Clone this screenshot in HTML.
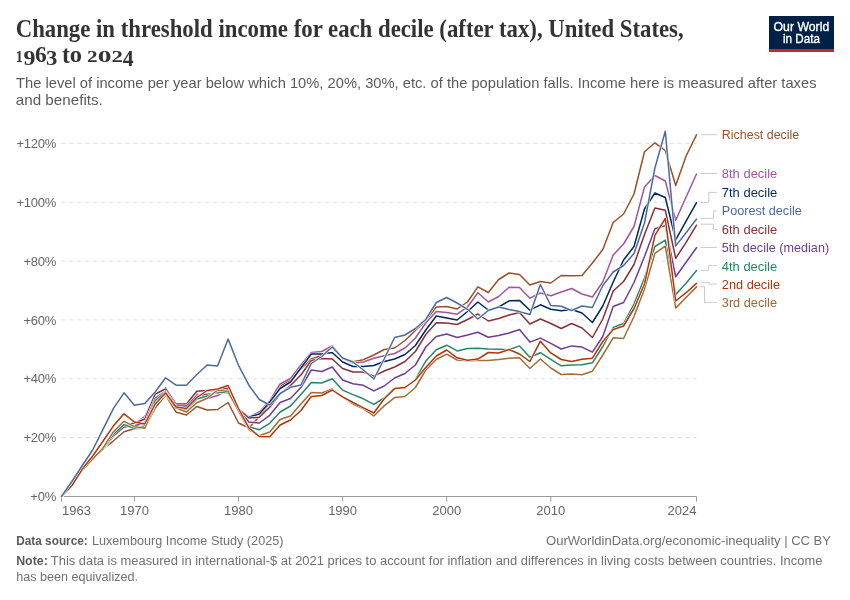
<!DOCTYPE html>
<html><head><meta charset="utf-8"><style>
html,body{margin:0;padding:0;background:#fff;}
svg{display:block;will-change:transform;}
.sans{font-family:"Liberation Sans",sans-serif;}
.serif{font-family:"Liberation Serif",serif;}
</style></head><body>
<svg width="850" height="600" viewBox="0 0 850 600">
<rect width="850" height="600" fill="#fff"/>
<g class="serif" font-weight="bold" font-size="25.2" fill="#333">
<text x="15.7" y="36.6" textLength="668" lengthAdjust="spacingAndGlyphs">Change in threshold income for each decile (after tax), United States,</text>
<text transform="translate(15.75,62.30) scale(0.1432,0.1682)" font-size="100">1</text><text transform="translate(23.58,65.36) scale(0.2395,0.2179)" font-size="100">9</text><text transform="translate(35.10,62.05) scale(0.2341,0.2269)" font-size="100">6</text><text transform="translate(46.09,65.36) scale(0.2279,0.2179)" font-size="100">3</text><text transform="translate(62.12,62.50) scale(0.2387,0.2571)" font-size="100">t</text><text transform="translate(69.82,62.27) scale(0.2452,0.2313)" font-size="100">o</text><text transform="translate(87.10,62.23) scale(0.2119,0.1742)" font-size="100">2</text><text transform="translate(97.70,62.44) scale(0.2750,0.1776)" font-size="100">0</text><text transform="translate(111.39,62.23) scale(0.2286,0.1742)" font-size="100">2</text><text transform="translate(122.68,65.70) scale(0.2170,0.2277)" font-size="100">4</text>
</g>
<g class="sans" font-size="15" fill="#5b5b5b">
<text x="16" y="88" textLength="800.5" lengthAdjust="spacingAndGlyphs">The level of income per year below which 10%, 20%, 30%, etc. of the population falls. Income here is measured after taxes</text>
<text x="15.8" y="105.4" textLength="87" lengthAdjust="spacingAndGlyphs">and benefits.</text>
</g>
<g>
<rect x="769" y="16" width="65" height="36" fill="#002147"/>
<rect x="769" y="49" width="65" height="3" fill="#ce261e"/>
<g class="sans" font-size="12.6" fill="#fff" stroke="#fff" stroke-width="0.35">
<text x="773.6" y="31" textLength="55.6" lengthAdjust="spacingAndGlyphs">Our World</text>
<text x="782.9" y="42.9" textLength="37" lengthAdjust="spacingAndGlyphs">in Data</text>
</g>
</g>
<g stroke="#ddd" stroke-width="1" stroke-dasharray="4,4">
<line x1="61.5" x2="696.5" y1="437.65" y2="437.65"/>
<line x1="61.5" x2="696.5" y1="378.80" y2="378.80"/>
<line x1="61.5" x2="696.5" y1="319.95" y2="319.95"/>
<line x1="61.5" x2="696.5" y1="261.10" y2="261.10"/>
<line x1="61.5" x2="696.5" y1="202.25" y2="202.25"/>
<line x1="61.5" x2="696.5" y1="143.40" y2="143.40"/>
</g>
<g class="sans" font-size="13" fill="#666" text-anchor="end" letter-spacing="-0.25">
<text x="56" y="501.1">+0%</text>
<text x="56" y="442.2">+20%</text>
<text x="56" y="383.4">+40%</text>
<text x="56" y="324.6">+60%</text>
<text x="56" y="265.7">+80%</text>
<text x="56" y="206.8">+100%</text>
<text x="56" y="148.0">+120%</text>
</g>
<g stroke="#999" stroke-width="1">
<line x1="61.5" x2="696.5" y1="496.5" y2="496.5"/>
<line x1="61.5" x2="61.5" y1="496.5" y2="501.5"/>
<line x1="134.4" x2="134.4" y1="496.5" y2="501.5"/>
<line x1="238.5" x2="238.5" y1="496.5" y2="501.5"/>
<line x1="342.6" x2="342.6" y1="496.5" y2="501.5"/>
<line x1="446.7" x2="446.7" y1="496.5" y2="501.5"/>
<line x1="550.8" x2="550.8" y1="496.5" y2="501.5"/>
<line x1="696.5" x2="696.5" y1="496.5" y2="501.5"/>
</g>
<g class="sans" font-size="13" fill="#666">
<text x="62.0" y="514.8" text-anchor="start">1963</text>
<text x="134.4" y="514.8" text-anchor="middle">1970</text>
<text x="238.5" y="514.8" text-anchor="middle">1980</text>
<text x="342.6" y="514.8" text-anchor="middle">1990</text>
<text x="446.7" y="514.8" text-anchor="middle">2000</text>
<text x="550.8" y="514.8" text-anchor="middle">2010</text>
<text x="696.5" y="514.8" text-anchor="end">2024</text>
</g>
<g fill="none" stroke-width="1.5" stroke-linejoin="round" stroke-linecap="round">
<polyline points="61.5,496.5 71.9,485.0 82.3,470.0 92.7,459.0 103.1,449.0 113.5,440.8 124.0,431.7 134.4,428.8 144.8,428.0 155.2,408.0 165.6,395.0 176.0,412.0 186.4,415.0 196.8,406.5 207.2,410.0 217.6,409.5 228.1,402.5 238.5,423.0 248.9,428.0 259.3,416.5 269.7,403.0 280.1,386.0 290.5,380.0 300.9,369.0 311.3,359.0 321.7,355.5 332.2,345.5 342.6,358.0 353.0,361.8 363.4,359.8 373.8,355.0 384.2,349.5 394.6,348.0 405.0,340.5 415.4,330.5 425.8,320.5 436.3,307.0 446.7,306.5 457.1,309.0 467.5,302.0 477.9,286.8 488.3,292.5 498.7,279.5 509.1,273.0 519.5,274.5 529.9,285.0 540.4,281.5 550.8,283.0 561.2,275.5 571.6,275.8 582.0,275.5 592.4,263.0 602.8,249.5 613.2,222.5 623.6,214.0 634.0,194.0 644.5,151.8 654.9,142.8 665.3,150.5 675.7,185.5 686.1,156.0 696.5,134.8" stroke="#fff" stroke-width="2.5"/>
<polyline points="61.5,496.5 71.9,485.0 82.3,470.0 92.7,459.0 103.1,449.0 113.5,440.8 124.0,431.7 134.4,428.8 144.8,428.0 155.2,408.0 165.6,395.0 176.0,412.0 186.4,415.0 196.8,406.5 207.2,410.0 217.6,409.5 228.1,402.5 238.5,423.0 248.9,428.0 259.3,416.5 269.7,403.0 280.1,386.0 290.5,380.0 300.9,369.0 311.3,359.0 321.7,355.5 332.2,345.5 342.6,358.0 353.0,361.8 363.4,359.8 373.8,355.0 384.2,349.5 394.6,348.0 405.0,340.5 415.4,330.5 425.8,320.5 436.3,307.0 446.7,306.5 457.1,309.0 467.5,302.0 477.9,286.8 488.3,292.5 498.7,279.5 509.1,273.0 519.5,274.5 529.9,285.0 540.4,281.5 550.8,283.0 561.2,275.5 571.6,275.8 582.0,275.5 592.4,263.0 602.8,249.5 613.2,222.5 623.6,214.0 634.0,194.0 644.5,151.8 654.9,142.8 665.3,150.5 675.7,185.5 686.1,156.0 696.5,134.8" stroke="#9A5129"/>
<polyline points="61.5,496.5 71.9,485.0 82.3,470.0 92.7,459.0 103.1,449.0 113.5,436.0 124.0,427.5 134.4,423.5 144.8,416.5 155.2,394.3 165.6,389.0 176.0,405.5 186.4,406.0 196.8,394.0 207.2,398.5 217.6,395.5 228.1,389.0 238.5,409.0 248.9,417.0 259.3,412.0 269.7,401.0 280.1,384.0 290.5,378.5 300.9,365.0 311.3,352.5 321.7,351.5 332.2,346.0 342.6,358.5 353.0,363.0 363.4,362.0 373.8,358.3 384.2,355.7 394.6,353.5 405.0,348.0 415.4,338.0 425.8,323.0 436.3,311.5 446.7,312.5 457.1,314.2 467.5,307.0 477.9,292.8 488.3,302.0 498.7,296.5 509.1,287.2 519.5,287.5 529.9,298.2 540.4,293.0 550.8,295.8 561.2,292.0 571.6,288.5 582.0,294.0 592.4,297.0 602.8,282.0 613.2,255.0 623.6,244.0 634.0,226.5 644.5,187.0 654.9,175.5 665.3,181.0 675.7,220.3 686.1,197.0 696.5,174.0" stroke="#fff" stroke-width="2.5"/>
<polyline points="61.5,496.5 71.9,485.0 82.3,470.0 92.7,459.0 103.1,449.0 113.5,436.0 124.0,427.5 134.4,423.5 144.8,416.5 155.2,394.3 165.6,389.0 176.0,405.5 186.4,406.0 196.8,394.0 207.2,398.5 217.6,395.5 228.1,389.0 238.5,409.0 248.9,417.0 259.3,412.0 269.7,401.0 280.1,384.0 290.5,378.5 300.9,365.0 311.3,352.5 321.7,351.5 332.2,346.0 342.6,358.5 353.0,363.0 363.4,362.0 373.8,358.3 384.2,355.7 394.6,353.5 405.0,348.0 415.4,338.0 425.8,323.0 436.3,311.5 446.7,312.5 457.1,314.2 467.5,307.0 477.9,292.8 488.3,302.0 498.7,296.5 509.1,287.2 519.5,287.5 529.9,298.2 540.4,293.0 550.8,295.8 561.2,292.0 571.6,288.5 582.0,294.0 592.4,297.0 602.8,282.0 613.2,255.0 623.6,244.0 634.0,226.5 644.5,187.0 654.9,175.5 665.3,181.0 675.7,220.3 686.1,197.0 696.5,174.0" stroke="#A2559C"/>
<polyline points="61.5,496.5 71.9,485.0 82.3,470.0 92.7,459.0 103.1,449.0 113.5,433.0 124.0,425.0 134.4,423.0 144.8,419.0 155.2,395.0 165.6,388.0 176.0,405.2 186.4,405.5 196.8,391.5 207.2,391.0 217.6,390.0 228.1,388.0 238.5,409.0 248.9,417.0 259.3,414.0 269.7,402.0 280.1,388.5 290.5,382.0 300.9,368.0 311.3,354.0 321.7,354.0 332.2,352.5 342.6,362.0 353.0,366.5 363.4,366.5 373.8,365.5 384.2,361.5 394.6,359.0 405.0,354.5 415.4,345.5 425.8,330.0 436.3,316.0 446.7,318.0 457.1,320.0 467.5,311.5 477.9,302.0 488.3,310.0 498.7,307.0 509.1,300.8 519.5,300.4 529.9,310.2 540.4,304.8 550.8,309.2 561.2,310.8 571.6,309.5 582.0,313.0 592.4,322.5 602.8,306.0 613.2,282.0 623.6,260.0 634.0,246.5 644.5,209.0 654.9,193.0 665.3,197.5 675.7,239.8 686.1,221.2 696.5,202.7" stroke="#fff" stroke-width="2.5"/>
<polyline points="61.5,496.5 71.9,485.0 82.3,470.0 92.7,459.0 103.1,449.0 113.5,433.0 124.0,425.0 134.4,423.0 144.8,419.0 155.2,395.0 165.6,388.0 176.0,405.2 186.4,405.5 196.8,391.5 207.2,391.0 217.6,390.0 228.1,388.0 238.5,409.0 248.9,417.0 259.3,414.0 269.7,402.0 280.1,388.5 290.5,382.0 300.9,368.0 311.3,354.0 321.7,354.0 332.2,352.5 342.6,362.0 353.0,366.5 363.4,366.5 373.8,365.5 384.2,361.5 394.6,359.0 405.0,354.5 415.4,345.5 425.8,330.0 436.3,316.0 446.7,318.0 457.1,320.0 467.5,311.5 477.9,302.0 488.3,310.0 498.7,307.0 509.1,300.8 519.5,300.4 529.9,310.2 540.4,304.8 550.8,309.2 561.2,310.8 571.6,309.5 582.0,313.0 592.4,322.5 602.8,306.0 613.2,282.0 623.6,260.0 634.0,246.5 644.5,209.0 654.9,193.0 665.3,197.5 675.7,239.8 686.1,221.2 696.5,202.7" stroke="#00295B"/>
<polyline points="61.5,496.5 71.9,485.0 82.3,470.0 92.7,459.0 103.1,449.0 113.5,433.0 124.0,425.0 134.4,423.0 144.8,419.0 155.2,394.0 165.6,389.0 176.0,404.0 186.4,404.0 196.8,391.3 207.2,390.5 217.6,389.5 228.1,388.2 238.5,409.0 248.9,418.0 259.3,417.3 269.7,407.3 280.1,394.0 290.5,385.5 300.9,375.0 311.3,360.5 321.7,358.5 332.2,359.0 342.6,368.5 353.0,372.0 363.4,372.0 373.8,376.2 384.2,371.0 394.6,367.0 405.0,361.5 415.4,351.5 425.8,334.5 436.3,322.8 446.7,323.0 457.1,324.5 467.5,319.5 477.9,314.0 488.3,321.0 498.7,318.5 509.1,315.0 519.5,312.5 529.9,324.0 540.4,319.0 550.8,323.5 561.2,328.5 571.6,323.5 582.0,328.0 592.4,337.5 602.8,319.0 613.2,291.0 623.6,281.5 634.0,264.5 644.5,234.5 654.9,208.0 665.3,210.3 675.7,258.3 686.1,242.4 696.5,225.2" stroke="#fff" stroke-width="2.5"/>
<polyline points="61.5,496.5 71.9,485.0 82.3,470.0 92.7,459.0 103.1,449.0 113.5,433.0 124.0,425.0 134.4,423.0 144.8,419.0 155.2,394.0 165.6,389.0 176.0,404.0 186.4,404.0 196.8,391.3 207.2,390.5 217.6,389.5 228.1,388.2 238.5,409.0 248.9,418.0 259.3,417.3 269.7,407.3 280.1,394.0 290.5,385.5 300.9,375.0 311.3,360.5 321.7,358.5 332.2,359.0 342.6,368.5 353.0,372.0 363.4,372.0 373.8,376.2 384.2,371.0 394.6,367.0 405.0,361.5 415.4,351.5 425.8,334.5 436.3,322.8 446.7,323.0 457.1,324.5 467.5,319.5 477.9,314.0 488.3,321.0 498.7,318.5 509.1,315.0 519.5,312.5 529.9,324.0 540.4,319.0 550.8,323.5 561.2,328.5 571.6,323.5 582.0,328.0 592.4,337.5 602.8,319.0 613.2,291.0 623.6,281.5 634.0,264.5 644.5,234.5 654.9,208.0 665.3,210.3 675.7,258.3 686.1,242.4 696.5,225.2" stroke="#883039"/>
<polyline points="61.5,496.5 71.9,485.0 82.3,470.0 92.7,459.0 103.1,449.0 113.5,436.0 124.0,427.0 134.4,425.8 144.8,423.0 155.2,398.3 165.6,391.0 176.0,405.7 186.4,406.0 196.8,395.9 207.2,394.3 217.6,393.0 228.1,390.0 238.5,410.0 248.9,422.0 259.3,423.0 269.7,415.3 280.1,402.5 290.5,398.5 300.9,387.5 311.3,370.0 321.7,371.5 332.2,367.0 342.6,380.0 353.0,383.8 363.4,385.3 373.8,390.9 384.2,386.0 394.6,378.0 405.0,373.5 415.4,365.0 425.8,347.0 436.3,336.5 446.7,334.0 457.1,337.5 467.5,335.0 477.9,332.2 488.3,337.2 498.7,335.5 509.1,333.0 519.5,329.5 529.9,342.1 540.4,338.1 550.8,343.4 561.2,349.0 571.6,345.9 582.0,347.1 592.4,352.2 602.8,336.5 613.2,306.5 623.6,302.5 634.0,282.5 644.5,256.5 654.9,228.7 665.3,225.6 675.7,276.8 686.1,262.2 696.5,247.7" stroke="#fff" stroke-width="2.5"/>
<polyline points="61.5,496.5 71.9,485.0 82.3,470.0 92.7,459.0 103.1,449.0 113.5,436.0 124.0,427.0 134.4,425.8 144.8,423.0 155.2,398.3 165.6,391.0 176.0,405.7 186.4,406.0 196.8,395.9 207.2,394.3 217.6,393.0 228.1,390.0 238.5,410.0 248.9,422.0 259.3,423.0 269.7,415.3 280.1,402.5 290.5,398.5 300.9,387.5 311.3,370.0 321.7,371.5 332.2,367.0 342.6,380.0 353.0,383.8 363.4,385.3 373.8,390.9 384.2,386.0 394.6,378.0 405.0,373.5 415.4,365.0 425.8,347.0 436.3,336.5 446.7,334.0 457.1,337.5 467.5,335.0 477.9,332.2 488.3,337.2 498.7,335.5 509.1,333.0 519.5,329.5 529.9,342.1 540.4,338.1 550.8,343.4 561.2,349.0 571.6,345.9 582.0,347.1 592.4,352.2 602.8,336.5 613.2,306.5 623.6,302.5 634.0,282.5 644.5,256.5 654.9,228.7 665.3,225.6 675.7,276.8 686.1,262.2 696.5,247.7" stroke="#6D3E91"/>
<polyline points="61.5,496.5 71.9,485.0 82.3,470.0 92.7,459.0 103.1,449.0 113.5,434.2 124.0,424.6 134.4,428.3 144.8,426.0 155.2,400.5 165.6,392.0 176.0,407.9 186.4,410.0 196.8,399.0 207.2,396.0 217.6,391.9 228.1,392.8 238.5,410.0 248.9,426.7 259.3,429.7 269.7,423.3 280.1,412.0 290.5,406.0 300.9,394.5 311.3,382.5 321.7,383.0 332.2,378.8 342.6,390.1 353.0,394.6 363.4,398.8 373.8,404.4 384.2,398.0 394.6,388.5 405.0,388.0 415.4,379.5 425.8,361.0 436.3,349.8 446.7,345.2 457.1,350.9 467.5,348.6 477.9,348.2 488.3,349.1 498.7,349.2 509.1,349.7 519.5,345.9 529.9,357.3 540.4,352.7 550.8,359.4 561.2,365.8 571.6,365.0 582.0,364.8 592.4,362.8 602.8,346.5 613.2,327.5 623.6,323.5 634.0,304.0 644.5,278.0 654.9,246.5 665.3,240.2 675.7,294.4 686.1,283.2 696.5,270.6" stroke="#fff" stroke-width="2.5"/>
<polyline points="61.5,496.5 71.9,485.0 82.3,470.0 92.7,459.0 103.1,449.0 113.5,434.2 124.0,424.6 134.4,428.3 144.8,426.0 155.2,400.5 165.6,392.0 176.0,407.9 186.4,410.0 196.8,399.0 207.2,396.0 217.6,391.9 228.1,392.8 238.5,410.0 248.9,426.7 259.3,429.7 269.7,423.3 280.1,412.0 290.5,406.0 300.9,394.5 311.3,382.5 321.7,383.0 332.2,378.8 342.6,390.1 353.0,394.6 363.4,398.8 373.8,404.4 384.2,398.0 394.6,388.5 405.0,388.0 415.4,379.5 425.8,361.0 436.3,349.8 446.7,345.2 457.1,350.9 467.5,348.6 477.9,348.2 488.3,349.1 498.7,349.2 509.1,349.7 519.5,345.9 529.9,357.3 540.4,352.7 550.8,359.4 561.2,365.8 571.6,365.0 582.0,364.8 592.4,362.8 602.8,346.5 613.2,327.5 623.6,323.5 634.0,304.0 644.5,278.0 654.9,246.5 665.3,240.2 675.7,294.4 686.1,283.2 696.5,270.6" stroke="#2A8566"/>
<polyline points="61.5,496.5 71.9,485.0 82.3,470.0 92.7,459.0 103.1,448.0 113.5,431.7 124.0,421.3 134.4,426.7 144.8,428.3 155.2,404.3 165.6,394.0 176.0,408.0 186.4,412.0 196.8,402.7 207.2,398.3 217.6,390.0 228.1,391.6 238.5,411.0 248.9,429.7 259.3,435.7 269.7,432.0 280.1,419.5 290.5,416.0 300.9,404.0 311.3,392.5 321.7,393.0 332.2,389.0 342.6,397.0 353.0,404.0 363.4,408.9 373.8,416.0 384.2,405.9 394.6,397.6 405.0,396.5 415.4,387.5 425.8,370.0 436.3,359.5 446.7,354.2 457.1,360.0 467.5,360.8 477.9,360.5 488.3,360.5 498.7,359.5 509.1,358.2 519.5,357.8 529.9,368.5 540.4,359.0 550.8,368.0 561.2,374.5 571.6,374.0 582.0,374.8 592.4,371.2 602.8,355.0 613.2,337.8 623.6,338.5 634.0,316.5 644.5,289.0 654.9,253.4 665.3,246.2 675.7,308.1 686.1,297.5 696.5,286.9" stroke="#fff" stroke-width="2.5"/>
<polyline points="61.5,496.5 71.9,485.0 82.3,470.0 92.7,459.0 103.1,448.0 113.5,431.7 124.0,421.3 134.4,426.7 144.8,428.3 155.2,404.3 165.6,394.0 176.0,408.0 186.4,412.0 196.8,402.7 207.2,398.3 217.6,390.0 228.1,391.6 238.5,411.0 248.9,429.7 259.3,435.7 269.7,432.0 280.1,419.5 290.5,416.0 300.9,404.0 311.3,392.5 321.7,393.0 332.2,389.0 342.6,397.0 353.0,404.0 363.4,408.9 373.8,416.0 384.2,405.9 394.6,397.6 405.0,396.5 415.4,387.5 425.8,370.0 436.3,359.5 446.7,354.2 457.1,360.0 467.5,360.8 477.9,360.5 488.3,360.5 498.7,359.5 509.1,358.2 519.5,357.8 529.9,368.5 540.4,359.0 550.8,368.0 561.2,374.5 571.6,374.0 582.0,374.8 592.4,371.2 602.8,355.0 613.2,337.8 623.6,338.5 634.0,316.5 644.5,289.0 654.9,253.4 665.3,246.2 675.7,308.1 686.1,297.5 696.5,286.9" stroke="#A06E36"/>
<polyline points="61.5,496.5 71.9,485.5 82.3,469.0 92.7,456.0 103.1,441.0 113.5,425.8 124.0,413.8 134.4,422.0 144.8,424.0 155.2,404.0 165.6,393.0 176.0,407.0 186.4,408.5 196.8,397.5 207.2,390.5 217.6,389.0 228.1,385.5 238.5,408.5 248.9,428.0 259.3,436.5 269.7,436.7 280.1,425.0 290.5,420.0 300.9,410.5 311.3,396.5 321.7,395.5 332.2,390.0 342.6,396.9 353.0,402.5 363.4,407.8 373.8,413.0 384.2,398.8 394.6,388.6 405.0,387.5 415.4,380.0 425.8,367.5 436.3,356.0 446.7,350.0 457.1,357.8 467.5,360.2 477.9,359.1 488.3,352.5 498.7,353.0 509.1,349.5 519.5,354.0 529.9,361.5 540.4,341.2 550.8,352.9 561.2,359.5 571.6,361.5 582.0,359.2 592.4,358.2 602.8,341.5 613.2,329.5 623.6,326.0 634.0,308.5 644.5,284.0 654.9,235.3 665.3,218.5 675.7,301.0 686.1,292.7 696.5,283.4" stroke="#fff" stroke-width="2.5"/>
<polyline points="61.5,496.5 71.9,485.5 82.3,469.0 92.7,456.0 103.1,441.0 113.5,425.8 124.0,413.8 134.4,422.0 144.8,424.0 155.2,404.0 165.6,393.0 176.0,407.0 186.4,408.5 196.8,397.5 207.2,390.5 217.6,389.0 228.1,385.5 238.5,408.5 248.9,428.0 259.3,436.5 269.7,436.7 280.1,425.0 290.5,420.0 300.9,410.5 311.3,396.5 321.7,395.5 332.2,390.0 342.6,396.9 353.0,402.5 363.4,407.8 373.8,413.0 384.2,398.8 394.6,388.6 405.0,387.5 415.4,380.0 425.8,367.5 436.3,356.0 446.7,350.0 457.1,357.8 467.5,360.2 477.9,359.1 488.3,352.5 498.7,353.0 509.1,349.5 519.5,354.0 529.9,361.5 540.4,341.2 550.8,352.9 561.2,359.5 571.6,361.5 582.0,359.2 592.4,358.2 602.8,341.5 613.2,329.5 623.6,326.0 634.0,308.5 644.5,284.0 654.9,235.3 665.3,218.5 675.7,301.0 686.1,292.7 696.5,283.4" stroke="#B13507"/>
<polyline points="61.5,496.5 71.9,481.5 82.3,465.5 92.7,450.0 103.1,429.2 113.5,408.3 124.0,392.8 134.4,405.3 144.8,403.5 155.2,392.0 165.6,377.8 176.0,385.2 186.4,385.2 196.8,374.5 207.2,365.0 217.6,366.0 228.1,339.1 238.5,365.3 248.9,385.2 259.3,399.5 269.7,405.0 280.1,393.5 290.5,387.3 300.9,385.0 311.3,363.5 321.7,356.5 332.2,347.0 342.6,358.0 353.0,362.0 363.4,370.0 373.8,379.0 384.2,359.0 394.6,337.5 405.0,335.0 415.4,328.5 425.8,319.5 436.3,302.5 446.7,297.5 457.1,303.0 467.5,309.3 477.9,319.0 488.3,310.5 498.7,307.0 509.1,309.5 519.5,311.6 529.9,314.5 540.4,284.5 550.8,305.5 561.2,306.3 571.6,310.5 582.0,306.0 592.4,307.5 602.8,285.5 613.2,272.0 623.6,265.5 634.0,253.5 644.5,223.0 654.9,168.0 665.3,131.2 675.7,245.9 686.1,232.7 696.5,219.0" stroke="#fff" stroke-width="2.5"/>
<polyline points="61.5,496.5 71.9,481.5 82.3,465.5 92.7,450.0 103.1,429.2 113.5,408.3 124.0,392.8 134.4,405.3 144.8,403.5 155.2,392.0 165.6,377.8 176.0,385.2 186.4,385.2 196.8,374.5 207.2,365.0 217.6,366.0 228.1,339.1 238.5,365.3 248.9,385.2 259.3,399.5 269.7,405.0 280.1,393.5 290.5,387.3 300.9,385.0 311.3,363.5 321.7,356.5 332.2,347.0 342.6,358.0 353.0,362.0 363.4,370.0 373.8,379.0 384.2,359.0 394.6,337.5 405.0,335.0 415.4,328.5 425.8,319.5 436.3,302.5 446.7,297.5 457.1,303.0 467.5,309.3 477.9,319.0 488.3,310.5 498.7,307.0 509.1,309.5 519.5,311.6 529.9,314.5 540.4,284.5 550.8,305.5 561.2,306.3 571.6,310.5 582.0,306.0 592.4,307.5 602.8,285.5 613.2,272.0 623.6,265.5 634.0,253.5 644.5,223.0 654.9,168.0 665.3,131.2 675.7,245.9 686.1,232.7 696.5,219.0" stroke="#4C6A9C"/>
</g>
<g fill="none" stroke="#ccc" stroke-width="1">
<path d="M700.5,134.7 H717"/>
<path d="M700.5,173.5 H717"/>
<path d="M700.5,202.4 H708.8 V192.4 H717"/>
<path d="M700.5,218.4 H713.6 V210.9 H717"/>
<path d="M700.5,224.2 H713.6 V229.3 H717"/>
<path d="M700.5,247.5 H717"/>
<path d="M700.5,270.3 H708.6 V265.6 H717"/>
<path d="M700.5,282.7 H709 V284.1 H717"/>
<path d="M700.5,286.4 H704.5 V302.4 H717"/>
</g>
<g class="sans" font-size="13.6">
<text x="721.8" y="139.3" fill="#9A5129" textLength="77.5" lengthAdjust="spacingAndGlyphs">Richest decile</text>
<text x="721.8" y="178.2" fill="#A2559C" textLength="55.5" lengthAdjust="spacingAndGlyphs">8th decile</text>
<text x="721.8" y="197.4" fill="#00295B" textLength="55.5" lengthAdjust="spacingAndGlyphs">7th decile</text>
<text x="721.8" y="215.4" fill="#4C6A9C" textLength="80" lengthAdjust="spacingAndGlyphs">Poorest decile</text>
<text x="721.8" y="233.8" fill="#883039" textLength="55.5" lengthAdjust="spacingAndGlyphs">6th decile</text>
<text x="721.8" y="252.2" fill="#6D3E91" textLength="107.3" lengthAdjust="spacingAndGlyphs">5th decile (median)</text>
<text x="721.8" y="271.1" fill="#268466" textLength="55.4" lengthAdjust="spacingAndGlyphs">4th decile</text>
<text x="721.8" y="288.9" fill="#B13507" textLength="58.2" lengthAdjust="spacingAndGlyphs">2nd decile</text>
<text x="721.8" y="307.4" fill="#996a30" textLength="55.2" lengthAdjust="spacingAndGlyphs">3rd decile</text>
</g>
<g class="sans" font-size="12" fill="#707070">
<text x="16.2" y="545.3" textLength="71.6" lengthAdjust="spacingAndGlyphs" font-weight="bold" fill="#5b5b5b">Data source:</text>
<text x="91.9" y="545.3" textLength="191.6" lengthAdjust="spacingAndGlyphs">Luxembourg Income Study (2025)</text>
<text x="546" y="545.3" textLength="285" lengthAdjust="spacingAndGlyphs">OurWorldinData.org/economic-inequality | CC BY</text>
<text x="16.2" y="564.8" textLength="31.6" lengthAdjust="spacingAndGlyphs" font-weight="bold" fill="#5b5b5b">Note:</text>
<text x="50.8" y="564.8" textLength="771.6" lengthAdjust="spacingAndGlyphs">This data is measured in international-$ at 2021 prices to account for inflation and differences in living costs between countries. Income</text>
<text x="16.2" y="580.6" textLength="121.8" lengthAdjust="spacingAndGlyphs">has been equivalized.</text>
</g>
</svg>
</body></html>
